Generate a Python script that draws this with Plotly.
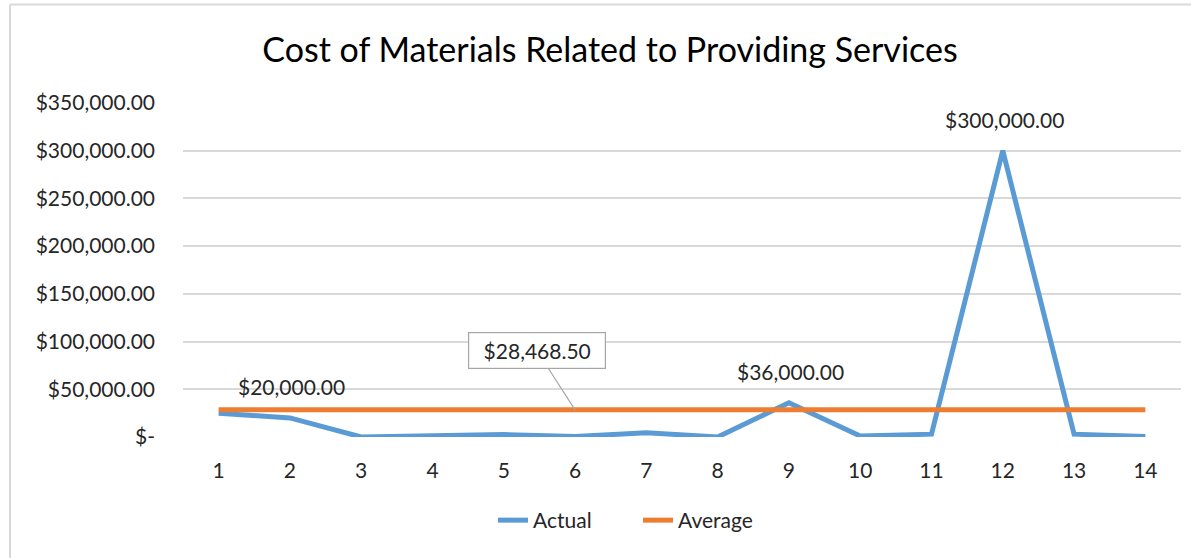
import plotly.graph_objects as go

categories = list(range(1, 15))
actual = [25000, 20000, 0, 1000, 2500, 500, 4500, 0, 36000, 1000, 3000, 300000, 3000, 500]
average = [28468.5] * 14
y_tickvals = [0, 50000, 100000, 150000, 200000, 250000, 300000, 350000]
y_ticktext = ["$-", "$50,000.00", "$100,000.00", "$150,000.00", "$200,000.00",
              "$250,000.00", "$300,000.00", "$350,000.00"]
labeled = {2: "$20,000.00", 9: "$36,000.00", 12: "$300,000.00"}
callout_cat = 6
callout_text = "$28,468.50"

FONT = "Lato"
FS = 21
fig = go.Figure()
fig.add_trace(go.Scatter(x=categories, y=actual, mode="lines", name="Actual",
                         line=dict(color="#5B9BD5", width=5)))
fig.add_trace(go.Scatter(x=categories, y=average, mode="lines", name="Average",
                         line=dict(color="#ED7D31", width=5)))

anns = []
for c, t in labeled.items():
    anns.append(dict(x=c, y=actual[c - 1], text=t, showarrow=False,
                     xshift=2, yshift=31, font=dict(size=FS, color="#262626", family=FONT)))
anns.append(dict(x=callout_cat, y=average[callout_cat - 1], text=callout_text,
                 showarrow=True, arrowhead=0, arrowwidth=1.2, arrowcolor="#A6A6A6",
                 ax=-38, ay=-59, bordercolor="#A6A6A6", borderwidth=1.2, borderpad=5,
                 bgcolor="white", width=126, align="center",
                 font=dict(size=FS, color="#262626", family=FONT)))

fig.update_layout(
    width=1191, height=558,
    margin=dict(l=183, r=10, t=103, b=121),
    paper_bgcolor="white", plot_bgcolor="white",
    title=dict(text="Cost of Materials Related to Providing Services", x=610 / 1191, xanchor="center",
               y=1 - 50 / 558, yanchor="middle",
               font=dict(size=34, color="#000000", family=FONT)),
    font=dict(family=FONT, size=FS, color="#262626"),
    showlegend=True,
    legend=dict(orientation="h", x=(493 - 183) / 998, xanchor="left", y=-0.25, yanchor="middle",
                font=dict(size=FS, color="#262626", family=FONT),
                entrywidth=100, entrywidthmode="pixels",
                bgcolor="rgba(0,0,0,0)"),
    xaxis=dict(range=[0.5, 14.5], tickvals=categories, showgrid=False, zeroline=False,
               showline=False, ticks="", ticklabelstandoff=19,
               tickfont=dict(size=FS, color="#262626", family=FONT)),
    yaxis=dict(range=[0, 350000], tickvals=y_tickvals, ticktext=y_ticktext,
               showgrid=True, gridcolor="#D9D9D9", gridwidth=1.5, zeroline=False,
               showline=False, ticks="", ticklabelstandoff=27,
               tickfont=dict(size=FS, color="#262626", family=FONT)),
    annotations=anns,
    shapes=[
        dict(type="line", xref="paper", yref="paper", x0=(10 - 183) / 998, x1=1.02,
             y0=(437 - 4.5) / 334, y1=(437 - 4.5) / 334, line=dict(color="#D9D9D9", width=2)),
        dict(type="line", xref="paper", yref="paper", x0=(10 - 183) / 998, x1=(10 - 183) / 998,
             y0=(437 - 4.5) / 334, y1=-0.4, line=dict(color="#D9D9D9", width=2)),
    ],
)
fig.write_html("out.html", config={"displayModeBar": False},
               post_script="document.body.style.margin='0';")
